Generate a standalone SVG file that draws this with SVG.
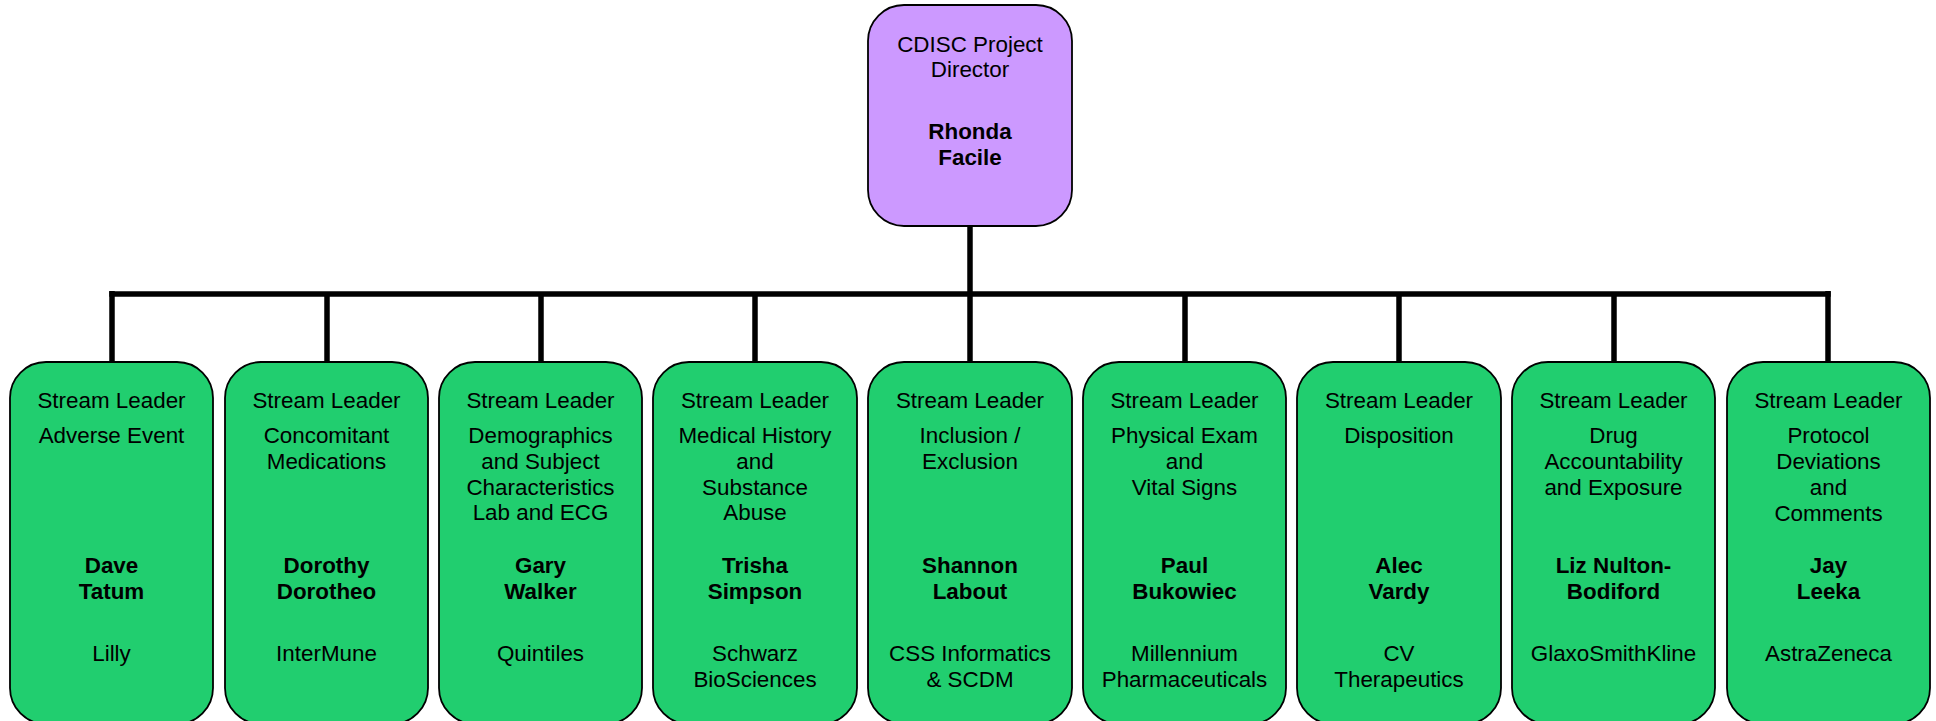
<svg xmlns="http://www.w3.org/2000/svg" width="1936" height="721" viewBox="0 0 1936 721">
<style>
text{font-family:"Liberation Sans",Arial,sans-serif;font-size:22.4px;fill:#000;text-anchor:middle}
.b{font-weight:bold}
.top{fill:#CC99FF;stroke:#000;stroke-width:1.8}
.box{fill:#21CE6F;stroke:#000;stroke-width:1.8}
.conn{stroke:#000;stroke-width:5.5;fill:none}
</style>
<rect width="1936" height="721" fill="#fff"/>
<g id="connectors">
<line class="conn" x1="970" y1="226" x2="970" y2="362"/>
<line class="conn" x1="109.3" y1="294" x2="1830.7" y2="294"/>
<line class="conn" x1="112" y1="291" x2="112" y2="362"/>
<line class="conn" x1="327" y1="294" x2="327" y2="362"/>
<line class="conn" x1="541" y1="294" x2="541" y2="362"/>
<line class="conn" x1="755" y1="294" x2="755" y2="362"/>
<line class="conn" x1="1185" y1="294" x2="1185" y2="362"/>
<line class="conn" x1="1399" y1="294" x2="1399" y2="362"/>
<line class="conn" x1="1614" y1="294" x2="1614" y2="362"/>
<line class="conn" x1="1828" y1="291" x2="1828" y2="362"/>
</g>
<g id="director">
<rect class="top" x="868" y="5" width="204" height="221" rx="36"/>
<text x="970" y="52">CDISC Project</text>
<text x="970" y="77">Director</text>
<text class="b" x="970" y="139">Rhonda</text>
<text class="b" x="970" y="165">Facile</text>
</g>
<g id="n1">
<rect class="box" x="10" y="362" width="203" height="362" rx="36"/>
<text x="111.5" y="408">Stream Leader</text>
<text x="111.5" y="443">Adverse Event</text>
<text class="b" x="111.5" y="573">Dave</text>
<text class="b" x="111.5" y="599">Tatum</text>
<text x="111.5" y="661">Lilly</text>
</g>
<g id="n2">
<rect class="box" x="225" y="362" width="203" height="362" rx="36"/>
<text x="326.5" y="408">Stream Leader</text>
<text x="326.5" y="443">Concomitant</text>
<text x="326.5" y="469">Medications</text>
<text class="b" x="326.5" y="573">Dorothy</text>
<text class="b" x="326.5" y="599">Dorotheo</text>
<text x="326.5" y="661">InterMune</text>
</g>
<g id="n3">
<rect class="box" x="439" y="362" width="203" height="362" rx="36"/>
<text x="540.5" y="408">Stream Leader</text>
<text x="540.5" y="443">Demographics</text>
<text x="540.5" y="469">and Subject</text>
<text x="540.5" y="495">Characteristics</text>
<text x="540.5" y="520">Lab and ECG</text>
<text class="b" x="540.5" y="573">Gary</text>
<text class="b" x="540.5" y="599">Walker</text>
<text x="540.5" y="661">Quintiles</text>
</g>
<g id="n4">
<rect class="box" x="653" y="362" width="204" height="362" rx="36"/>
<text x="755" y="408">Stream Leader</text>
<text x="755" y="443">Medical History</text>
<text x="755" y="469">and</text>
<text x="755" y="495">Substance</text>
<text x="755" y="520">Abuse</text>
<text class="b" x="755" y="573">Trisha</text>
<text class="b" x="755" y="599">Simpson</text>
<text x="755" y="661">Schwarz</text>
<text x="755" y="687">BioSciences</text>
</g>
<g id="n5">
<rect class="box" x="868" y="362" width="204" height="362" rx="36"/>
<text x="970" y="408">Stream Leader</text>
<text x="970" y="443">Inclusion /</text>
<text x="970" y="469">Exclusion</text>
<text class="b" x="970" y="573">Shannon</text>
<text class="b" x="970" y="599">Labout</text>
<text x="970" y="661">CSS Informatics</text>
<text x="970" y="687">&amp; SCDM</text>
</g>
<g id="n6">
<rect class="box" x="1083" y="362" width="203" height="362" rx="36"/>
<text x="1184.5" y="408">Stream Leader</text>
<text x="1184.5" y="443">Physical Exam</text>
<text x="1184.5" y="469">and</text>
<text x="1184.5" y="495">Vital Signs</text>
<text class="b" x="1184.5" y="573">Paul</text>
<text class="b" x="1184.5" y="599">Bukowiec</text>
<text x="1184.5" y="661">Millennium</text>
<text x="1184.5" y="687">Pharmaceuticals</text>
</g>
<g id="n7">
<rect class="box" x="1297" y="362" width="204" height="362" rx="36"/>
<text x="1399" y="408">Stream Leader</text>
<text x="1399" y="443">Disposition</text>
<text class="b" x="1399" y="573">Alec</text>
<text class="b" x="1399" y="599">Vardy</text>
<text x="1399" y="661">CV</text>
<text x="1399" y="687">Therapeutics</text>
</g>
<g id="n8">
<rect class="box" x="1512" y="362" width="203" height="362" rx="36"/>
<text x="1613.5" y="408">Stream Leader</text>
<text x="1613.5" y="443">Drug</text>
<text x="1613.5" y="469">Accountability</text>
<text x="1613.5" y="495">and Exposure</text>
<text class="b" x="1613.5" y="573">Liz Nulton-</text>
<text class="b" x="1613.5" y="599">Bodiford</text>
<text x="1613.5" y="661">GlaxoSmithKline</text>
</g>
<g id="n9">
<rect class="box" x="1727" y="362" width="203" height="362" rx="36"/>
<text x="1828.5" y="408">Stream Leader</text>
<text x="1828.5" y="443">Protocol</text>
<text x="1828.5" y="469">Deviations</text>
<text x="1828.5" y="495">and</text>
<text x="1828.5" y="521">Comments</text>
<text class="b" x="1828.5" y="573">Jay</text>
<text class="b" x="1828.5" y="599">Leeka</text>
<text x="1828.5" y="661">AstraZeneca</text>
</g>
</svg>
